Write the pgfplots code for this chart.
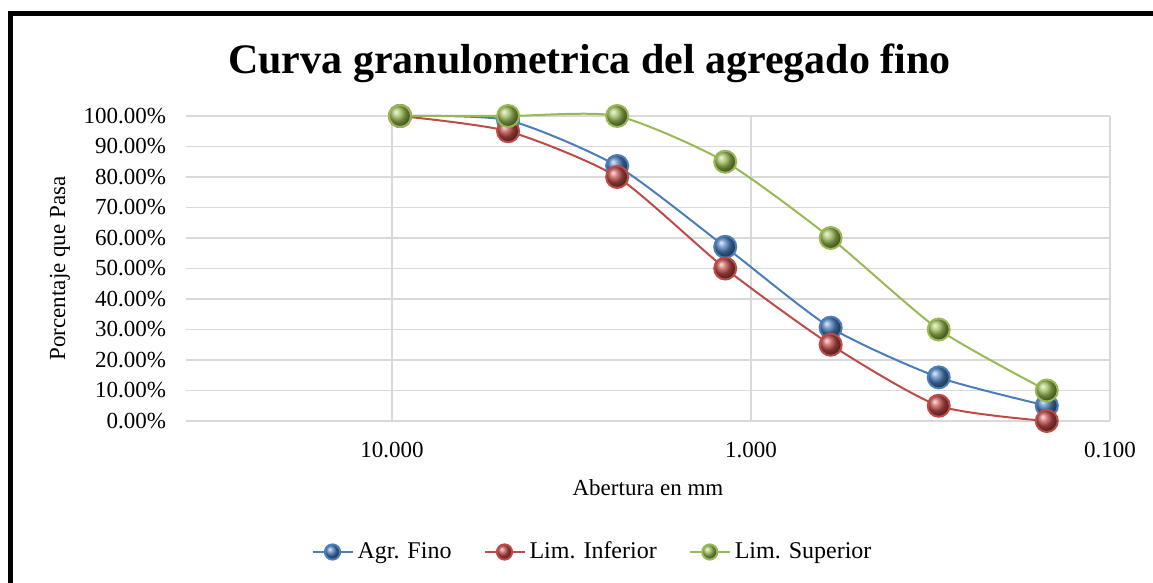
\documentclass[border=0pt]{standalone}
\usepackage{fontspec}
\setmainfont{Liberation Serif}
\usepackage{pgfplots}
\pgfplotsset{compat=1.18}
\definecolor{agrblue}{RGB}{74,126,187}
\definecolor{limred}{RGB}{190,75,72}
\definecolor{limgreen}{RGB}{152,185,84}
\definecolor{gridgray}{RGB}{217,217,217}

\begin{document}
\begin{tikzpicture}
% page = 1153x583 px at 0.5pt per px, axis box south west at the origin
\useasboundingbox (-93pt,-81pt) rectangle (483.5pt,210.5pt);
\begin{axis}[
    scale only axis, width=462pt, height=152.5pt,
    xmode=log, x dir=reverse,
    xmin=0.1, xmax=37.5, ymin=0, ymax=100,
    xtick={10,1,0.1}, xticklabels={10.000,1.000,0.100},
    ytick={0,10,...,100},
    yticklabels={0.00\%,10.00\%,20.00\%,30.00\%,40.00\%,50.00\%,60.00\%,70.00\%,80.00\%,90.00\%,100.00\%},
    minor xtick={}, major tick length=0pt,
    axis line style={draw=none},
    grid=major, grid style={gridgray, line width=0.9pt},
    tick label style={font=\fontsize{11.5}{13}\selectfont},
    xticklabel style={yshift=-7pt},
    yticklabel style={xshift=-6.5pt},
    title={Curva granulometrica del agregado fino},
    title style={font=\fontsize{21}{24}\selectfont\bfseries, at={(axis description cs:0.4367,1.10)}, anchor=base},
    xlabel={Abertura en mm},
    xlabel style={font=\fontsize{11.5}{13}\selectfont, at={(axis description cs:0.5,-0.2197)}, anchor=center},
    ylabel={Porcentaje que Pasa},
    ylabel style={font=\fontsize{11.5}{13}\selectfont, at={(axis description cs:-0.1364,0.5)}, anchor=center},
    legend columns=3,
    legend style={at={(axis description cs:0.441,-0.4295)}, anchor=center, draw=none,
      font=\fontsize{12}{14}\selectfont, /tikz/every even column/.append style={column sep=14pt}},
    legend image code/.code={\draw[#1, mark repeat=2, mark phase=2, mark size=3.8pt] plot coordinates {(0pt,0pt) (10pt,0pt) (20pt,0pt)};},
    clip=false,
    every axis plot/.append style={line width=1pt, smooth, tension=0.4, mark=ball, mark size=5.5pt},
  ]
  \addplot[agrblue, mark options={ball color=agrblue}] coordinates {
    (9.5,100) (4.75,98.6) (2.36,83.6) (1.18,57.1) (0.6,30.6) (0.3,14.3) (0.15,5.0)};
  \addlegendentry{Agr. Fino}
  \addplot[limred, mark options={ball color=limred}] coordinates {
    (9.5,100) (4.75,95) (2.36,80) (1.18,50) (0.6,25) (0.3,5) (0.15,0)};
  \addlegendentry{Lim. Inferior}
  \addplot[limgreen, mark options={ball color=limgreen}] coordinates {
    (9.5,100) (4.75,100) (2.36,100) (1.18,85) (0.6,60) (0.3,30) (0.15,10)};
  \addlegendentry{Lim. Superior}
\end{axis}
% frame of the chart, cut off at the bottom and right
\draw[line width=2.5pt, line join=miter] (-87.75pt,-90pt) -- (-87.75pt,203.75pt) -- (490pt,203.75pt);
\end{tikzpicture}
\end{document}
